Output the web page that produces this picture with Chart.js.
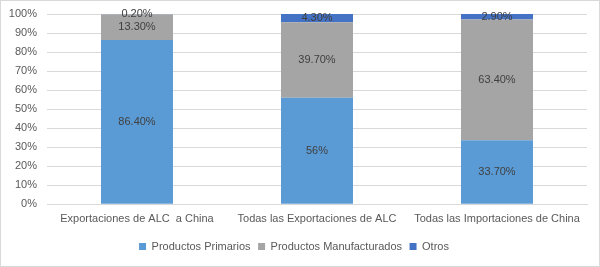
<!DOCTYPE html>
<html>
<head>
<meta charset="utf-8">
<script src="https://cdn.jsdelivr.net/npm/chart.js@4"></script>
<style>
  html, body { margin: 0; padding: 0; background: #fff; }
  #wrap { width: 600px; height: 267px; box-sizing: border-box; border: 1px solid #d9d9d9; }
</style>
</head>
<body>
<div id="wrap"><canvas id="myBarGraph" width="598" height="265"></canvas></div>
<script>
// categories and shares (%)
var categories = ["Exportaciones de ALC  a China", "Todas las Exportaciones de ALC", "Todas las Importaciones de China"];
var primarios = [86.4, 56, 33.7];
var manufacturados = [13.3, 39.7, 63.4];
var otros = [0.2, 4.3, 2.9];
var yTicks = [0, 10, 20, 30, 40, 50, 60, 70, 80, 90, 100];

var fontFamily = "'Liberation Sans', Arial, sans-serif";

function fmt(v) {
  return Number.isInteger(v) ? v + "%" : v.toFixed(2) + "%";
}

// draws the value in the middle of each stacked segment
var segmentLabels = {
  id: "segmentLabels",
  afterDatasetsDraw: function(chart) {
    var ctx = chart.ctx;
    ctx.save();
    ctx.font = "11px " + fontFamily;
    ctx.fillStyle = "#404040";
    ctx.textAlign = "center";
    ctx.textBaseline = "middle";
    chart.data.datasets.forEach(function(ds, i) {
      var meta = chart.getDatasetMeta(i);
      meta.data.forEach(function(bar, j) {
        var y = (bar.y + bar.base) / 2;
        ctx.fillText(fmt(ds.data[j]), bar.x, y);
      });
    });
    ctx.restore();
  }
};

var ctx = document.getElementById("myBarGraph");
var myBarGraph = new Chart(ctx, {
  type: "bar",
  data: {
    labels: categories,
    datasets: [
      { label: "Productos Primarios", data: primarios, backgroundColor: "#5B9BD5" },
      { label: "Productos Manufacturados", data: manufacturados, backgroundColor: "#A5A5A5" },
      { label: "Otros", data: otros, backgroundColor: "#4472C4" }
    ]
  },
  options: {
    responsive: false,
    animation: false,
    categoryPercentage: 0.4,
    barPercentage: 1,
    layout: { padding: { top: 13, right: 12, bottom: 4, left: 0 } },
    plugins: {
      tooltip: { enabled: false },
      legend: {
        position: "bottom",
        labels: {
          boxWidth: 7,
          boxHeight: 7,
          padding: 7.5,
          color: "#595959",
          font: { family: fontFamily, size: 11 }
        }
      }
    },
    scales: {
      x: {
        stacked: true,
        grid: { display: false, drawTicks: false },
        border: { color: "#d9d9d9" },
        ticks: { color: "#595959", padding: 8, font: { family: fontFamily, size: 11 } }
      },
      y: {
        stacked: true,
        min: 0,
        max: 100,
        // fixed axis width, and no extra top room for the 100% label
        afterFit: function(scale) { scale.width = 46; scale.paddingTop = 0; },
        afterBuildTicks: function(scale) {
          scale.ticks = yTicks.map(function(v) { return { value: v }; });
        },
        grid: { color: "#d9d9d9", drawTicks: false },
        border: { display: false },
        ticks: {
          color: "#595959",
          padding: 10,
          font: { family: fontFamily, size: 11 },
          callback: function(v) { return v + "%"; }
        }
      }
    }
  },
  plugins: [segmentLabels]
});
</script>
</body>
</html>
